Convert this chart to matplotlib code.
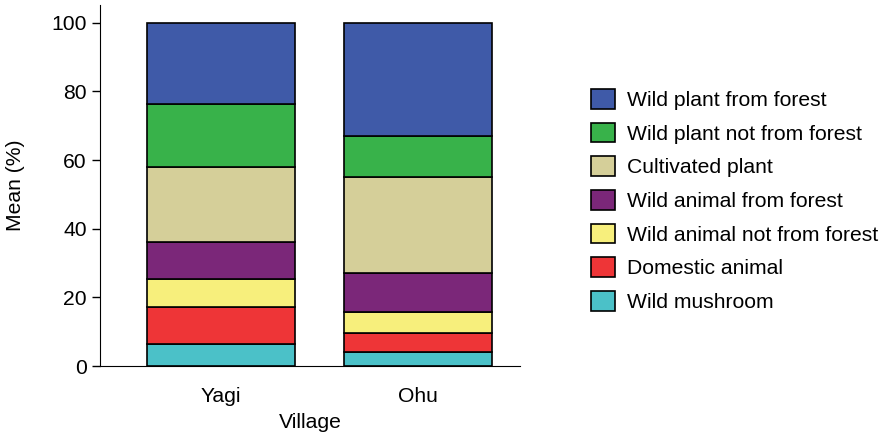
import matplotlib.pyplot as plt

plt.rcParams['font.family'] = ['Liberation Sans', 'DejaVu Sans']

villages = ['Yagi', 'Ohu']
# stacked from bottom to top
categories = ['Wild mushroom', 'Domestic animal', 'Wild animal not from forest',
              'Wild animal from forest', 'Cultivated plant',
              'Wild plant not from forest', 'Wild plant from forest']
yagi = [6.4, 10.7, 8.2, 10.8, 21.8, 18.5, 23.6]
ohu = [4.0, 5.5, 6.1, 11.4, 28.0, 12.1, 32.9]
colors = ['#4BC1C8', '#EE3537', '#F7EF7C', '#7B2779', '#D5CF99', '#38B24A', '#3F5AA8']

fs = 15.2

fig = plt.figure(figsize=(8.87, 4.37), dpi=100)
ax = fig.add_axes([100/887, 1-366/437, 420/887, 361/437])

x = range(len(villages))
bottom = [0, 0]
handles = []
for i, cat in enumerate(categories):
    vals = [yagi[i], ohu[i]]
    b = ax.bar(x, vals, width=0.75, bottom=bottom, color=colors[i],
               edgecolor='black', linewidth=1.2, label=cat)
    handles.append(b)
    bottom = [bottom[j] + vals[j] for j in range(2)]

ax.set_xlim(-0.614, 1.518)
ax.set_ylim(0, 105.2)
ax.set_yticks([0, 20, 40, 60, 80, 100])
ax.set_xticks(list(x))
ax.set_xticklabels(villages)
ax.tick_params(axis='x', length=0, labelsize=fs, pad=15)
ax.tick_params(axis='y', length=6, width=1, labelsize=fs, direction='out')
ax.spines['top'].set_visible(False)
ax.spines['right'].set_visible(False)
ax.set_xlabel('Village', fontsize=fs, labelpad=5)
ax.set_ylabel('Mean (%)', fontsize=fs, labelpad=19)

fig.legend(handles[::-1], categories[::-1], loc='upper left',
           bbox_to_anchor=(591/887, 1-89/437), frameon=False, fontsize=fs,
           borderpad=0, borderaxespad=0, handlelength=1.14, handleheight=1.05,
           handletextpad=0.57, labelspacing=0.60)

plt.savefig('out.png')
